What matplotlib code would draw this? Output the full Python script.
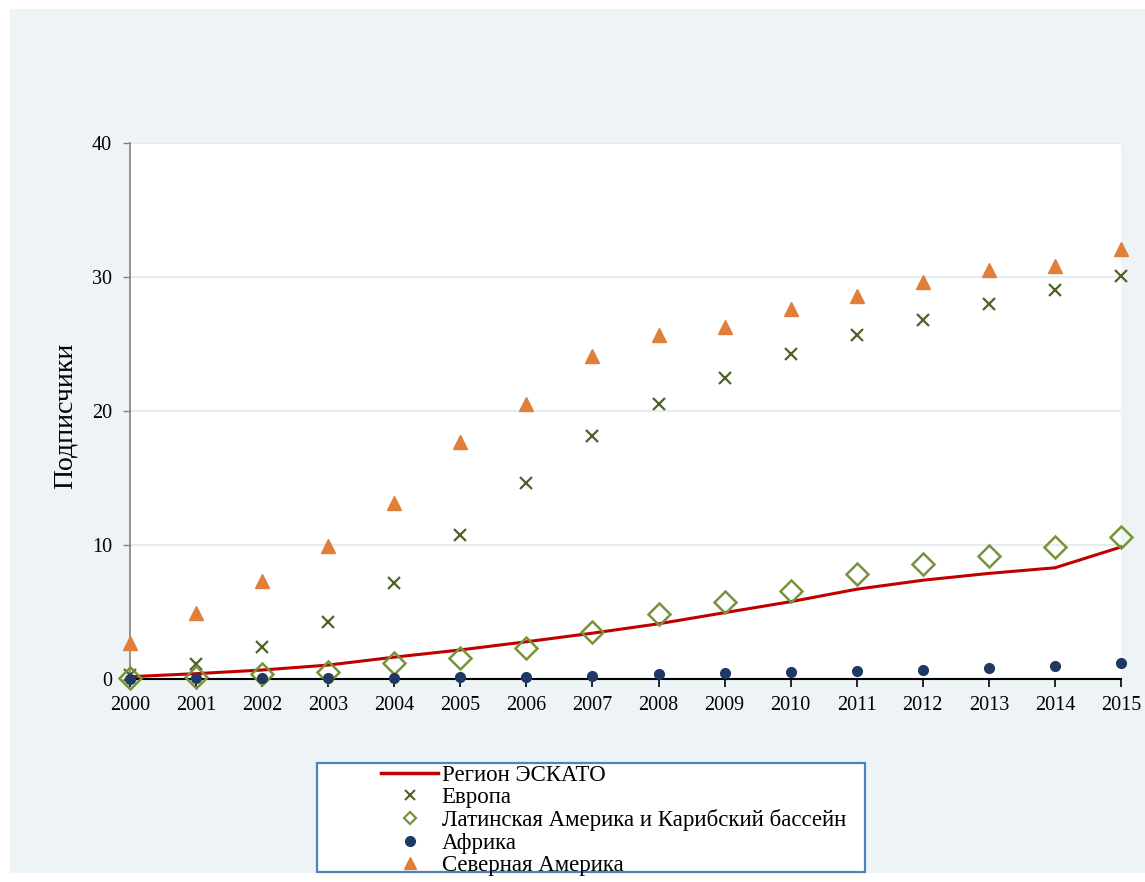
import matplotlib.pyplot as plt
from matplotlib.lines import Line2D
from matplotlib.patches import Rectangle

plt.rcParams["font.family"] = ["Liberation Serif", "DejaVu Serif"]

years = list(range(2000, 2016))

escap = [0.17, 0.4, 0.67, 1.04, 1.63, 2.17, 2.78, 3.42, 4.12, 4.95,
         5.77, 6.7, 7.37, 7.88, 8.3, 9.85]
europe = [0.3, 1.15, 2.37, 4.23, 7.2, 10.75, 14.6, 18.1, 20.5, 22.5,
          24.25, 25.7, 26.8, 27.95, 29.0, 30.1]
latam = [0.05, 0.17, 0.35, 0.55, 1.17, 1.54, 2.34, 3.5, 4.85, 5.77,
         6.6, 7.8, 8.55, 9.2, 9.83, 10.57]
africa = [0.03, 0.05, 0.07, 0.09, 0.11, 0.14, 0.18, 0.25, 0.35, 0.42,
          0.5, 0.6, 0.68, 0.8, 0.95, 1.2]
n_america = [2.7, 4.95, 7.3, 9.95, 13.1, 17.7, 20.5, 24.1, 25.7, 26.3,
             27.6, 28.6, 29.6, 30.5, 30.85, 32.1]

labels = ["Регион ЭСКАТО", "Европа", "Латинская Америка и Карибский бассейн",
          "Африка", "Северная Америка"]

RED = "#c00000"
OLIVE = "#4f6228"
GREEN = "#77933c"
NAVY = "#1f3864"
ORANGE = "#e07f3a"

W, H = 1145, 882
fig = plt.figure(figsize=(W / 100, H / 100), dpi=100)
fig.patch.set_facecolor("white")
fig.patches.append(Rectangle((10 / W, 9 / H), 1 - 10 / W, 864 / H,
                             transform=fig.transFigure, facecolor="#eef4f5",
                             edgecolor="none", zorder=-2))

ax = fig.add_axes([130 / W, 1 - 679 / H, (1121 - 130) / W, (679 - 143) / H])
ax.set_facecolor("white")

ax.plot(years, escap, color=RED, lw=2.2, zorder=3, clip_on=False)
ax.plot(years, europe, ls="none", marker="x", ms=8.5, mew=1.6,
        color=OLIVE, zorder=4, clip_on=False)
ax.plot(years, latam, ls="none", marker="D", ms=11, mew=1.8,
        mfc="none", mec=GREEN, zorder=5, clip_on=False)
ax.plot(years, africa, ls="none", marker="o", ms=7,
        color=NAVY, zorder=6, clip_on=False)
ax.plot(years, n_america, ls="none", marker="^", ms=10,
        color=ORANGE, zorder=4, clip_on=False)

ax.set_xlim(2000, 2015)
ax.set_ylim(0, 40)
ax.set_xticks(years)
ax.set_yticks([0, 10, 20, 30, 40])
ax.tick_params(axis="x", direction="out", length=6, width=1.2, colors="black",
               labelsize=14.5, pad=6)
ax.tick_params(axis="y", direction="out", length=5, width=1, color="#808080",
               labelcolor="black", labelsize=14.5, pad=8)
ax.grid(axis="y", color="#e3ecef", lw=1.5)
ax.set_axisbelow(True)
for s in ("top", "right"):
    ax.spines[s].set_visible(False)
ax.spines["left"].set_color("#808080")
ax.spines["left"].set_linewidth(1.2)
ax.spines["bottom"].set_color("black")
ax.spines["bottom"].set_linewidth(1.5)
ax.spines["bottom"].set_zorder(2)

fig.text(65 / W, 1 - 416 / H, "Подписчики", rotation=90, ha="center",
         va="center", fontsize=20)

# legend box and entries (smaller markers than on the chart)
fig.patches.append(Rectangle((317 / W, 1 - 872 / H), (865 - 317) / W, (872 - 763) / H,
                             transform=fig.transFigure, facecolor="white",
                             edgecolor="#4f81bd", lw=1.6, zorder=-1))
handles = [
    Line2D([], [], color=RED, lw=2.5),
    Line2D([], [], ls="none", marker="x", ms=7, mew=1.5, color=OLIVE),
    Line2D([], [], ls="none", marker="D", ms=6, mew=1.6, mfc="none", mec=GREEN),
    Line2D([], [], ls="none", marker="o", ms=7, color=NAVY),
    Line2D([], [], ls="none", marker="^", ms=8, color=ORANGE),
]
fig.legend(handles, labels,
           loc="upper left", bbox_to_anchor=(381 / W, 1 - 765 / H),
           frameon=False, fontsize=16.5, handlelength=2.5, handletextpad=0.15,
           labelspacing=0.05, borderaxespad=0, borderpad=0)

fig.savefig("out.png", dpi=100)
